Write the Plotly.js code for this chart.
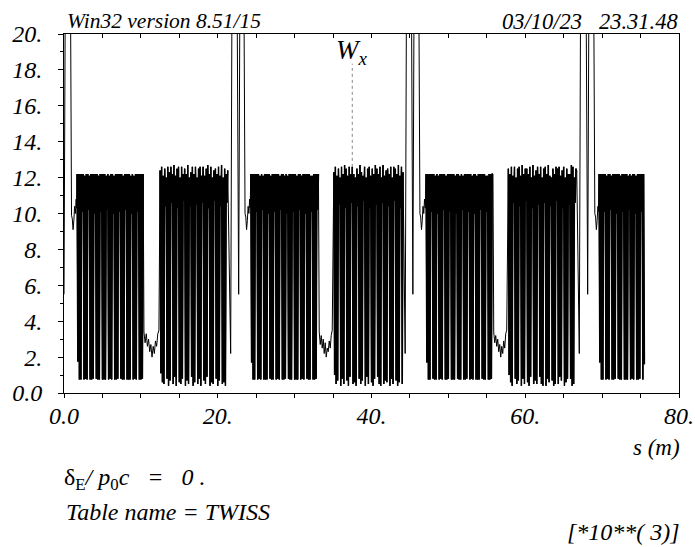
<!DOCTYPE html>
<html><head><meta charset="utf-8">
<script src="https://cdn.plot.ly/plotly-3.0.1.min.js"></script>
<style>html,body{margin:0;padding:0;background:#fff}#chart{width:695px;height:547px}</style>
</head><body><div id="chart"></div>
<script>
// ---------- data (s in m, W_x) ----------
const startS = [0, 0.34, 0.65, 0.98, 1.08, 1.18, 1.28, 1.38, 1.48, 1.58, 1.64];
const startW = [5.5, 40, 40, 9.9, 9.7, 9.1, 9.6, 10.4, 10.0, 10.8, 10.3];

const a1S = [1.7,1.8,1.9,2,2.1,2.2,2.3,2.4,2.5,2.6,2.7,2.8,2.9,3,3.1,3.2,3.3,3.4,3.5,3.6,3.7,3.8,3.9,4,4.1,4.2,4.3,4.4,4.5,4.6,4.7,4.8,4.9,5,5.1,5.2,5.3,5.4,5.5,5.6,5.7,5.8,5.9,6,6.1,6.2,6.3,6.4,6.5,6.6,6.7,6.8,6.9,7,7.1,7.2,7.3,7.4,7.5,7.6,7.7,7.8,7.9,8,8.1,8.2,8.3,8.4,8.5,8.6,8.7,8.8,8.9,9,9.1,9.2,9.3,9.4,9.5,9.6,9.7,9.8,9.9,10,10.1,10.2,10.3];
const a1W = [12.2,1.75,12.2,0.75,12.2,0.75,12.2,10.1,
 12.2,0.75,12.1,0.8,12.2,0.75,12.2,10.2,
 12.1,0.75,12.2,0.75,12.2,0.8,12.2,10.0,
 12.2,0.8,12.2,0.75,12.1,0.75,12.2,10.1,
 12.2,0.75,12.2,0.75,12.2,0.75,12.1,10.2,
 12.2,0.75,12.1,0.8,12.2,0.75,12.2,10.0,
 12.1,0.75,12.2,0.75,12.2,0.8,12.2,10.1,
 12.2,0.8,12.2,0.75,12.1,0.75,12.2,10.2,
 12.2,0.75,12.2,0.75,12.2,0.75,12.1,10.0,
 12.2,0.75,12.1,0.8,12.2,0.75,12.2,10.1,
 12.2,0.75,12.2,0.75,12.2,0.8,12.2];

const w1S = [10.4,10.55,10.7,10.85,11,11.15,11.3,11.45,11.6,11.75,11.9,12.05,12.2,12.35];
const w1W = [3.4,2.8,3.3,2.6,3.0,2.3,2.7,2.0,2.6,2.2,2.9,2.6,3.3,3.5];

const b1S = [12.5,12.6,12.7,12.8,12.9,13,13.1,13.2,13.3,13.4,13.5,13.6,13.7,13.8,13.9,14,14.1,14.2,14.3,14.4,14.5,14.6,14.7,14.8,14.9,15,15.1,15.2,15.3,15.4,15.5,15.6,15.7,15.8,15.9,16,16.1,16.2,16.3,16.4,16.5,16.6,16.7,16.8,16.9,17,17.1,17.2,17.3,17.4,17.5,17.6,17.7,17.8,17.9,18,18.1,18.2,18.3,18.4,18.5,18.6,18.7,18.8,18.9,19,19.1,19.2,19.3,19.4,19.5,19.6,19.7,19.8,19.9,20,20.1,20.2,20.3,20.4,20.5,20.6,20.7,20.8,20.9,21,21.1,21.2,21.3];
const b1W = [12.4,1.1,12.6,0.6,12.1,0.5,12.5,10.4,
 12.0,0.8,12.6,0.4,12.3,0.7,12.6,10.6,
 12.2,0.5,12.7,0.9,12.1,0.4,12.5,10.3,
 12.6,0.6,12.0,0.5,12.6,0.8,12.2,10.7,
 12.5,0.4,12.2,0.7,12.7,0.5,12.0,10.4,
 12.3,0.9,12.6,0.4,12.2,0.6,12.6,10.5,
 12.0,0.5,12.5,0.8,12.6,0.4,12.1,10.6,
 12.6,0.7,12.1,0.5,12.5,0.9,12.7,10.3,
 12.2,0.4,12.6,0.6,12.0,0.5,12.4,10.7,
 12.5,0.8,12.2,0.4,12.6,0.7,12.1,10.4,
 12.7,0.5,12.0,0.6,12.5,0.4,12.2,10.6,
 12.4];

const sp1S = [21.68,22.0,22.3,22.72,23.05,23.2,23.55,23.65,23.75,23.85,23.95,24.05,24.15,24.22];
const sp1W = [2.2,40,40,5.5,40,40,10.0,9.8,9.1,9.6,10.4,10.0,10.8,10.3];

const a2S = [24.3,24.4,24.5,24.6,24.7,24.8,24.9,25,25.1,25.2,25.3,25.4,25.5,25.6,25.7,25.8,25.9,26,26.1,26.2,26.3,26.4,26.5,26.6,26.7,26.8,26.9,27,27.1,27.2,27.3,27.4,27.5,27.6,27.7,27.8,27.9,28,28.1,28.2,28.3,28.4,28.5,28.6,28.7,28.8,28.9,29,29.1,29.2,29.3,29.4,29.5,29.6,29.7,29.8,29.9,30,30.1,30.2,30.3,30.4,30.5,30.6,30.7,30.8,30.9,31,31.1,31.2,31.3,31.4,31.5,31.6,31.7,31.8,31.9,32,32.1,32.2,32.3,32.4,32.5,32.6,32.7,32.8,32.9,33,33.1];
const a2W = [12.2,1.7,12.2,0.75,12.2,0.75,12.2,10.1,
 12.2,0.75,12.2,0.8,12.1,0.75,12.2,10.2,
 12.1,0.75,12.2,0.75,12.2,0.75,12.2,10.0,
 12.2,0.8,12.1,0.75,12.2,0.75,12.2,10.1,
 12.2,0.75,12.2,0.8,12.2,0.75,12.1,10.2,
 12.2,0.75,12.2,0.75,12.1,0.8,12.2,10.0,
 12.1,0.8,12.2,0.75,12.2,0.75,12.2,10.1,
 12.2,0.75,12.2,0.75,12.1,0.75,12.2,10.2,
 12.2,0.75,12.1,0.8,12.2,0.75,12.2,10.0,
 12.2,0.8,12.2,0.75,12.2,0.75,12.1,10.1,
 12.1,0.75,12.2,0.75,12.2,0.8,12.2,10.2,
 12.2];

const w2S = [33.2,33.33,33.46,33.59,33.72,33.85,33.98,34.11,34.24,34.37,34.5,34.63,34.76,34.89];
const w2W = [3.4,2.7,3.2,2.5,3.0,2.2,2.8,2.0,2.5,2.3,2.9,2.5,3.2,3.5];

const b2S = [35.1,35.2,35.3,35.4,35.5,35.6,35.7,35.8,35.9,36,36.1,36.2,36.3,36.4,36.5,36.6,36.7,36.8,36.9,37,37.1,37.2,37.3,37.4,37.5,37.6,37.7,37.8,37.9,38,38.1,38.2,38.3,38.4,38.5,38.6,38.7,38.8,38.9,39,39.1,39.2,39.3,39.4,39.5,39.6,39.7,39.8,39.9,40,40.1,40.2,40.3,40.4,40.5,40.6,40.7,40.8,40.9,41,41.1,41.2,41.3,41.4,41.5,41.6,41.7,41.8,41.9,42,42.1,42.2,42.3,42.4,42.5,42.6,42.7,42.8,42.9,43,43.1,43.2,43.3,43.4,43.5,43.6,43.7,43.8,43.9,44,44.1];
const b2W = [12.3,1.0,12.6,0.5,12.1,0.7,12.5,10.5,
 12.0,0.4,12.6,0.8,12.2,0.5,12.7,10.3,
 12.5,0.7,12.1,0.4,12.6,0.9,12.2,10.6,
 12.6,0.5,12.2,0.6,12.0,0.4,12.5,10.4,
 12.2,0.8,12.7,0.5,12.3,0.7,12.1,10.7,
 12.6,0.4,12.0,0.9,12.5,0.5,12.6,10.3,
 12.1,0.6,12.5,0.4,12.2,0.8,12.7,10.5,
 12.5,0.9,12.2,0.5,12.6,0.4,12.0,10.6,
 12.7,0.5,12.1,0.7,12.4,0.6,12.5,10.4,
 12.2,0.4,12.6,0.8,12.0,0.5,12.6,10.7,
 12.5,0.7,12.2,0.4,12.7,0.6,12.1,10.3,
 12.6,0.5,12.3];

const sp2S = [44.38,44.7,45.0,45.38,45.7,45.95,46.3,46.4,46.5,46.6,46.7,46.8,46.9,47.0];
const sp2W = [2.2,40,40,5.5,40,40,10.0,9.8,9.1,9.6,10.4,10.0,10.8,10.3];

const a3S = [47.1,47.2,47.3,47.4,47.5,47.6,47.7,47.8,47.9,48,48.1,48.2,48.3,48.4,48.5,48.6,48.7,48.8,48.9,49,49.1,49.2,49.3,49.4,49.5,49.6,49.7,49.8,49.9,50,50.1,50.2,50.3,50.4,50.5,50.6,50.7,50.8,50.9,51,51.1,51.2,51.3,51.4,51.5,51.6,51.7,51.8,51.9,52,52.1,52.2,52.3,52.4,52.5,52.6,52.7,52.8,52.9,53,53.1,53.2,53.3,53.4,53.5,53.6,53.7,53.8,53.9,54,54.1,54.2,54.3,54.4,54.5,54.6,54.7,54.8,54.9,55,55.1,55.2,55.3,55.4,55.5,55.6,55.7,55.8];
const a3W = [12.2,1.7,12.2,0.75,12.2,0.75,12.2,10.1,
 12.2,0.8,12.2,0.75,12.1,0.75,12.2,10.0,
 12.1,0.75,12.2,0.8,12.2,0.75,12.2,10.2,
 12.2,0.75,12.1,0.75,12.2,0.8,12.2,10.1,
 12.2,0.75,12.2,0.75,12.2,0.75,12.1,10.0,
 12.2,0.8,12.2,0.75,12.1,0.75,12.2,10.2,
 12.1,0.75,12.2,0.75,12.2,0.8,12.2,10.1,
 12.2,0.75,12.2,0.8,12.1,0.75,12.2,10.0,
 12.2,0.75,12.1,0.75,12.2,0.75,12.2,10.2,
 12.2,0.8,12.2,0.75,12.2,0.75,12.1,10.1,
 12.1,0.75,12.2,0.75,12.2,0.8,12.2,12.2];

const w3S = [55.9,56.03,56.16,56.29,56.42,56.55,56.68,56.81,56.94,57.07,57.2,57.33,57.46,57.59];
const w3W = [3.4,2.8,3.2,2.6,3.0,2.3,2.7,2.0,2.6,2.2,2.9,2.5,3.3,3.5];

const b3S = [57.8,57.9,58,58.1,58.2,58.3,58.4,58.5,58.6,58.7,58.8,58.9,59,59.1,59.2,59.3,59.4,59.5,59.6,59.7,59.8,59.9,60,60.1,60.2,60.3,60.4,60.5,60.6,60.7,60.8,60.9,61,61.1,61.2,61.3,61.4,61.5,61.6,61.7,61.8,61.9,62,62.1,62.2,62.3,62.4,62.5,62.6,62.7,62.8,62.9,63,63.1,63.2,63.3,63.4,63.5,63.6,63.7,63.8,63.9,64,64.1,64.2,64.3,64.4,64.5,64.6,64.7,64.8,64.9,65,65.1,65.2,65.3,65.4,65.5,65.6,65.7,65.8,65.9,66,66.1,66.2,66.3,66.4,66.5,66.6,66.7];
const b3W = [12.5,1.0,12.2,0.6,12.6,0.4,12.1,10.6,
 12.6,0.8,12.0,0.5,12.5,0.7,12.6,10.4,
 12.1,0.4,12.7,0.8,12.2,0.5,12.5,10.7,
 12.5,0.6,12.2,0.4,12.6,0.9,12.0,10.3,
 12.7,0.5,12.1,0.7,12.4,0.5,12.6,10.5,
 12.2,0.9,12.6,0.5,12.0,0.4,12.5,10.6,
 12.6,0.4,12.2,0.8,12.7,0.6,12.1,10.4,
 12.0,0.7,12.5,0.4,12.2,0.5,12.6,10.7,
 12.5,0.5,12.6,0.9,12.1,0.7,12.4,10.3,
 12.6,0.4,12.0,0.6,12.5,0.8,12.2,10.5,
 12.2,0.8,12.7,0.4,12.6,0.5,12.0,10.6,
 12.5,12.3];

const sp3S = [67.03,67.35,67.7,68.12,68.45,68.7,69.05,69.15,69.25,69.35,69.45,69.52];
const sp3W = [2.2,40,40,5.5,40,40,10.0,9.8,9.1,9.6,10.4,10.1];

const a4S = [69.6,69.7,69.8,69.9,70,70.1,70.2,70.3,70.4,70.5,70.6,70.7,70.8,70.9,71,71.1,71.2,71.3,71.4,71.5,71.6,71.7,71.8,71.9,72,72.1,72.2,72.3,72.4,72.5,72.6,72.7,72.8,72.9,73,73.1,73.2,73.3,73.4,73.5,73.6,73.7,73.8,73.9,74,74.1,74.2,74.3,74.4,74.5,74.6,74.7,74.8,74.9,75,75.1,75.2,75.3,75.4,75.5];
const a4W = [12.2,1.7,12.2,0.75,12.2,0.75,12.2,10.1,
 12.2,0.75,12.1,0.8,12.2,0.75,12.2,10.2,
 12.1,0.75,12.2,0.75,12.2,0.8,12.2,10.0,
 12.2,0.8,12.2,0.75,12.1,0.75,12.2,10.1,
 12.2,0.75,12.2,0.75,12.2,0.75,12.1,10.2,
 12.2,0.75,12.1,0.8,12.2,0.75,12.2,10.0,
 12.1,0.75,12.2,0.75,12.2,0.8,12.2,10.1,
 12.2,0.75,12.2,1.6];

const xTickVals = [0,5,10,15,20,25,30,35,40,45,50,55,60,65,70,75,80];
const xTickText = ['0.0',' ',' ',' ','20.',' ',' ',' ','40.',' ',' ',' ','60.',' ',' ',' ','80.'];
const yTickVals = [0,2,4,6,8,10,12,14,16,18,20];
const yTickText = ['0.0','2.','4.','6.','8.','10.','12.','14.','16.','18.','20.'];
const yMinorVals = [1,3,5,7,9,11,13,15,17,19];

// label marker for the curve name
const curveLabel = 'W<sub>x</sub>';
const labelS = 37.5, labelTextW = 19.0, labelLineTop = 18.35, labelLineBottom = 12.6;

// ---------- assemble ----------
const segments = [[startS,startW],[a1S,a1W],[w1S,w1W],[b1S,b1W],[sp1S,sp1W],
  [a2S,a2W],[w2S,w2W],[b2S,b2W],[sp2S,sp2W],[a3S,a3W],[w3S,w3W],[b3S,b3W],[sp3S,sp3W],[a4S,a4W]];
const blockSegs = [[a1S,a1W],[b1S,b1W],[a2S,a2W],[b2S,b2W],[a3S,a3W],[b3S,b3W],[a4S,a4W]];
function zip(list) {
  const xs = [], ys = [];
  list.forEach(([s,w]) => {
    const n = Math.min(s.length, w.length);
    for (let i = 0; i < n; i++) { xs.push(s[i]); ys.push(w[i]); }
  });
  return [xs, ys];
}
const [sAll, wAll] = zip(segments);

const FONT = 'Liberation Serif';
const tickFont = {family: FONT, size: 24, color: '#000', style: 'italic'};

const traces = [
  {x: sAll, y: wAll, mode: 'lines', line: {color: '#000', width: 1, simplify: false}, hoverinfo: 'skip', showlegend: false}
];
// dense blocks drawn again, a bit heavier, so they read as solid as in the original
blockSegs.forEach(seg => {
  const [xs, ys] = zip([seg]);
  traces.push({x: xs, y: ys, mode: 'lines', line: {color: '#000', width: 1.5, simplify: false}, hoverinfo: 'skip', showlegend: false});
});
traces.push({x: [], y: [], xaxis: 'x2', yaxis: 'y', mode: 'lines', showlegend: false, hoverinfo: 'skip'});

const PH = 359; // plot height in px (top 34, bottom 393)
const py = row => (393 - row) / PH;
const px = col => (col - 64) / 615;
const ann = (text, x, y, xanchor, size, style) => ({
  text, x, y, xref: 'paper', yref: 'paper', xanchor, yanchor: 'middle', showarrow: false,
  font: {family: FONT, size, color: '#000', style: style || 'italic'}
});
const NB = '\u00a0';

const layout = {
  width: 695, height: 547,
  margin: {l: 64, r: 16, t: 34, b: 154, pad: 0},
  paper_bgcolor: '#fff', plot_bgcolor: '#fff',
  showlegend: false,
  xaxis: {
    range: [0, 80], tickmode: 'array', tickvals: xTickVals, ticktext: xTickText,
    ticks: 'outside', ticklen: 4, tickwidth: 1, tickcolor: '#000',
    showline: true, linecolor: '#000', linewidth: 1, mirror: false,
    showgrid: false, zeroline: false, tickfont: tickFont, ticklabelstandoff: -3
  },
  xaxis2: {
    overlaying: 'x', side: 'top', range: [0, 80], tickmode: 'array', tickvals: xTickVals,
    ticks: 'inside', ticklen: 4, tickwidth: 1, tickcolor: '#000', showticklabels: false,
    showline: true, linecolor: '#000', linewidth: 1, showgrid: false, zeroline: false
  },
  yaxis: {
    range: [0, 20], tickmode: 'array', tickvals: yTickVals, ticktext: yTickText,
    ticks: 'outside', ticklen: 5, tickwidth: 1, tickcolor: '#000',
    minor: {tickvals: yMinorVals, ticks: 'outside', ticklen: 3, tickcolor: '#000', showgrid: false},
    showline: true, linecolor: '#000', linewidth: 1, mirror: true,
    showgrid: false, zeroline: false, tickfont: tickFont, ticklabelstandoff: 11
  },
  shapes: [{type: 'line', xref: 'x', yref: 'y', x0: labelS, x1: labelS, y0: labelLineBottom, y1: labelLineTop,
            line: {color: '#888', width: 1, dash: 'dot'}}],
  annotations: [
    ann('Win32 version 8.51/15', px(65), py(21), 'left', 21.5),
    ann('03/10/23' + NB + NB + NB + '23.31.48', px(680), py(21), 'right', 22.5),
    ann('s (m)', px(682), py(448), 'right', 23),
    ann('δ<sub>E</sub><i>/ p</i><sub>0</sub><i>c' + NB + NB + NB + '=' + NB + NB + NB + '0 .</i>', px(62), py(479), 'left', 24, 'normal'),
    ann('Table name = TWISS', px(64), py(512), 'left', 24),
    ann('[*10**(' + NB + '3)]', px(682), py(532), 'right', 24),
    {text: curveLabel, x: labelS, y: labelTextW, xref: 'x', yref: 'y', xanchor: 'center', yanchor: 'middle',
     showarrow: false, font: {family: FONT, size: 27, color: '#000', style: 'italic'}}
  ]
};

Plotly.newPlot('chart', traces, layout, {staticPlot: true, displayModeBar: false});
</script></body></html>
